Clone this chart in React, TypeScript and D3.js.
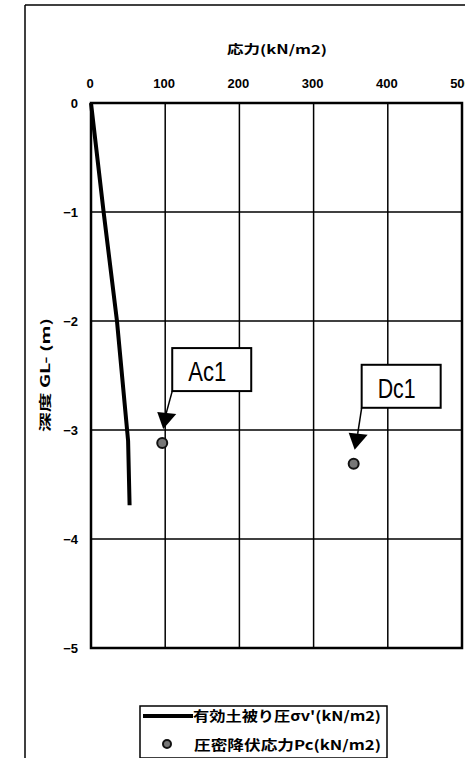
import React from "react";
import * as d3 from "d3";

// 有効土被り圧 σv' (kN/m2) vs depth
const overburdenStress = [0, 17, 35, 50, 52];
const overburdenDepth = [0, -1, -2, -3.1, -3.69];

// 圧密降伏応力 Pc
const layerNames = ["Ac1", "Dc1"];
const pcStress = [96, 354];
const pcDepth = [-3.12, -3.31];

const xTicks = [0, 100, 200, 300, 400, 500];
const yTicks = [0, -1, -2, -3, -4, -5];

const W = 465;
const H = 758;
const plot = { left: 91, right: 462, top: 103, bottom: 648 };

const jp = "'Noto Sans CJK JP', 'Liberation Sans', sans-serif";
const num = "'Liberation Sans', Arial, sans-serif";

// label box placement relative to the point (layout only)
const labelBox = [
  { dx: 10, dy: -95, w: 79, h: 43 },
  { dx: 8, dy: -99, w: 79, h: 43 },
];

export default function App() {
  const x = d3.scaleLinear().domain([0, 500]).range([plot.left, plot.right]);
  const y = d3.scaleLinear().domain([0, -5]).range([plot.top, plot.bottom]);

  const lineData = overburdenStress.map((s, i) => [s, overburdenDepth[i]] as [number, number]);
  const line = d3
    .line<[number, number]>()
    .x((d) => x(d[0]))
    .y((d) => y(d[1]));

  return (
    <svg
      width={W}
      height={H}
      style={{ position: "absolute", left: 0, top: 0, background: "#fff" }}
    >
      <rect x={0} y={0} width={W} height={H} fill="#fff" />
      {/* outer frame */}
      <line x1={25} y1={5} x2={25} y2={H} stroke="#000" strokeWidth={1.5} />
      <line x1={25} y1={5} x2={W} y2={5} stroke="#000" strokeWidth={1.5} />

      {/* grid */}
      {xTicks.map((t) => (
        <line key={"gx" + t} x1={x(t)} x2={x(t)} y1={plot.top} y2={plot.bottom} stroke="#000" strokeWidth={1.5} />
      ))}
      {yTicks.map((t) => (
        <line key={"gy" + t} x1={plot.left} x2={plot.right} y1={y(t)} y2={y(t)} stroke="#000" strokeWidth={1.5} />
      ))}
      <rect
        x={plot.left}
        y={plot.top}
        width={plot.right - plot.left}
        height={plot.bottom - plot.top}
        fill="none"
        stroke="#000"
        strokeWidth={2.5}
      />

      {/* x tick labels */}
      {xTicks.map((t) => (
        <text key={"xt" + t} x={x(t) - 1} y={88} textAnchor="middle" fontFamily={num} fontWeight="bold" fontSize={13}>
          {t}
        </text>
      ))}
      <text
        x={227}
        y={54}
        fontFamily={jp}
        fontWeight="bold"
        fontSize={12.5}
        textLength={100}
        lengthAdjust="spacingAndGlyphs"
      >
        応力(kN/m2)
      </text>

      {/* y tick labels */}
      {yTicks.map((t) => (
        <text key={"yt" + t} x={78} y={y(t) + 5} textAnchor="end" fontFamily={num} fontWeight="bold" fontSize={13}>
          {t === 0 ? "0" : "−" + Math.abs(t)}
        </text>
      ))}
      <text
        transform="translate(50,432) rotate(-90)"
        fontFamily={jp}
        fontWeight="bold"
        fontSize={12.5}
        textLength={114}
        lengthAdjust="spacingAndGlyphs"
      >
        深度 GL- (m)
      </text>

      {/* effective overburden line */}
      <path d={line(lineData) ?? ""} fill="none" stroke="#000" strokeWidth={4} strokeLinejoin="round" />

      {/* Pc points with labels */}
      {layerNames.map((name, i) => {
        const px = x(pcStress[i]);
        const py = y(pcDepth[i]);
        const b = labelBox[i];
        const bx = px + b.dx;
        const by = py + b.dy;
        return (
          <g key={name}>
            <rect x={bx} y={by} width={b.w} height={b.h} fill="#fff" stroke="#000" strokeWidth={2} />
            <text
              x={bx + 16}
              y={by + 33}
              fontFamily={num}
              fontSize={28}
              textLength={38}
              lengthAdjust="spacingAndGlyphs"
            >
              {name}
            </text>
            <line x1={bx} y1={by + b.h} x2={px + 4} y2={py - 30} stroke="#000" strokeWidth={1.5} />
            <path d={`M${px - 5},${py - 31} L${px + 14},${py - 29} L${px + 1},${py - 14} Z`} fill="#000" />
            <circle cx={px} cy={py} r={5} fill="#777" stroke="#111" strokeWidth={2} />
          </g>
        );
      })}

      {/* legend */}
      <rect x={140} y={706} width={247} height={52} fill="#fff" stroke="#000" strokeWidth={1.5} />
      <line x1={143} x2={193} y1={716} y2={716} stroke="#000" strokeWidth={4} />
      <text
        x={193}
        y={721}
        fontFamily={jp}
        fontWeight="bold"
        fontSize={13.5}
        textLength={188}
        lengthAdjust="spacingAndGlyphs"
      >
        有効土被り圧σv'(kN/m2)
      </text>
      <circle cx={167} cy={744} r={4} fill="#777" stroke="#111" strokeWidth={2} />
      <text
        x={194}
        y={750}
        fontFamily={jp}
        fontWeight="bold"
        fontSize={13.5}
        textLength={187}
        lengthAdjust="spacingAndGlyphs"
      >
        圧密降伏応力Pc(kN/m2)
      </text>
    </svg>
  );
}
